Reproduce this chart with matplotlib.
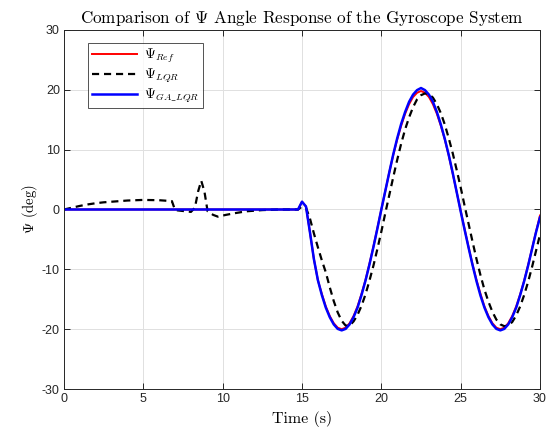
import numpy as np
import matplotlib
matplotlib.use("Agg")
from matplotlib import pyplot as plt

# time axes (s) and angle values (deg)
t_sine = [15.0, 15.25, 15.5, 15.75, 16.0, 16.25, 16.5, 16.75, 17.0, 17.25,
          17.5, 17.75, 18.0, 18.25, 18.5, 18.75, 19.0, 19.25, 19.5, 19.75,
          20.0, 20.25, 20.5, 20.75, 21.0, 21.25, 21.5, 21.75, 22.0, 22.25,
          22.5, 22.75, 23.0, 23.25, 23.5, 23.75, 24.0, 24.25, 24.5, 24.75,
          25.0, 25.25, 25.5, 25.75, 26.0, 26.25, 26.5, 26.75, 27.0, 27.25,
          27.5, 27.75, 28.0, 28.25, 28.5, 28.75, 29.0, 29.25, 29.5, 29.75, 30.0]

psi_ref = [1.3, 0.5, -3.8, -8.3, -11.8, -14.1, -16.2, -17.8, -19.0, -19.75,
           -20.0, -19.75, -19.0, -17.8, -16.2, -14.1, -11.8, -9.1, -6.2, -3.1,
           0.0, 3.1, 6.2, 9.1, 11.7, 14.0, 16.0, 17.6, 18.8, 19.5,
           19.8, 19.5, 18.8, 17.6, 16.0, 14.0, 11.7, 9.0, 6.0, 2.9,
           -0.2, -3.3, -6.3, -9.2, -11.8, -14.1, -16.2, -17.8, -19.0, -19.75,
           -20.0, -19.75, -19.0, -17.8, -16.2, -14.2, -11.9, -9.3, -6.5, -3.7, -1.0]

psi_ga = [1.3, 0.5, -3.8, -8.3, -11.8, -14.3, -16.4, -18.0, -19.2, -19.95,
          -20.2, -19.95, -19.2, -18.0, -16.4, -14.3, -11.9, -9.2, -6.3, -3.2,
          0.0, 3.1, 6.2, 9.2, 11.9, 14.3, 16.3, 18.0, 19.2, 19.95,
          20.3, 19.95, 19.2, 18.0, 16.3, 14.2, 11.8, 9.1, 6.1, 2.9,
          -0.3, -3.4, -6.4, -9.3, -12.0, -14.4, -16.4, -18.0, -19.2, -19.95,
          -20.2, -19.95, -19.2, -18.0, -16.4, -14.3, -12.0, -9.4, -6.6, -3.8, -1.3]

psi_lqr_sine = [0.5, 0.3, -1.5, -4.0, -6.3, -8.5, -10.5, -13.0, -15.3, -17.2,
                -18.6, -19.4, -19.4, -18.7, -17.6, -16.1, -14.2, -11.9, -9.4, -6.6,
                -3.7, -0.6, 2.4, 5.4, 8.3, 11.0, 13.4, 15.4, 17.1, 18.4,
                19.1, 19.4, 19.3, 18.7, 17.6, 16.1, 14.2, 11.9, 9.4, 6.6,
                3.7, 0.6, -2.4, -5.4, -8.3, -11.0, -13.4, -15.4, -17.1, -18.4,
                -19.2, -19.5, -19.4, -18.8, -17.7, -16.2, -14.3, -12.1, -9.6, -6.9, -4.2]

# first 15 s
t_flat = [0.0, 14.75]
psi_flat = [0.0, 0.0]
t_lqr_early = [0.0, 0.5, 1.0, 1.5, 2.0, 2.5, 3.0, 4.0, 5.0, 6.0, 6.8, 7.0,
               7.5, 8.0, 8.25, 8.45, 8.65, 8.85, 9.05, 9.4, 9.7, 10.2, 10.8,
               11.5, 12.5, 13.5, 14.75]
psi_lqr_early = [0.0, 0.3, 0.6, 0.85, 1.05, 1.2, 1.3, 1.5, 1.6, 1.55, 1.4, -0.1,
                 -0.25, -0.4, 0.3, 3.0, 4.8, 3.0, -0.3, -0.9, -1.2, -0.9, -0.6,
                 -0.3, -0.1, 0.0, 0.0]

t_ref = t_flat + t_sine
y_ref = psi_flat + psi_ref
t_ga = t_flat + t_sine
y_ga = psi_flat + psi_ga
t_lqr = t_lqr_early + t_sine
y_lqr = psi_lqr_early + psi_lqr_sine

plt.rcParams["mathtext.fontset"] = "cm"
plt.rcParams["axes.formatter.use_mathtext"] = True
serif = "cmr10"
tickfont = "Liberation Sans"

fig = plt.figure(figsize=(5.49, 4.32), dpi=100)
ax = fig.add_axes([0.1166, 0.0995, 0.867, 0.8311])

ax.plot(t_ref, y_ref, color="#ff0000", lw=1.4, label=r"$\Psi_{Ref}$")
ax.plot(t_lqr, y_lqr, color="black", lw=1.6, ls=(0, (3.2, 2.2)), label=r"$\Psi_{LQR}$")
ax.plot(t_ga, y_ga, color="#0000ff", lw=1.8, label=r"$\Psi_{GA\_LQR}$")

ax.set_xlim(0, 30)
ax.set_ylim(-30, 30)
ax.set_xticks(np.arange(0, 31, 5))
ax.set_yticks(np.arange(-30, 31, 10))
ax.grid(True, color="#e0e0e0", lw=0.7)
ax.set_axisbelow(True)
ax.tick_params(direction="in", top=True, right=True, length=4, width=0.7,
               color="#262626", labelcolor="#262626", labelsize=9, pad=3)
ax.set_xticklabels([str(v) for v in range(0, 31, 5)], fontfamily=tickfont)
ax.set_yticklabels([str(v) for v in range(-30, 31, 10)], fontfamily=tickfont)
for s in ax.spines.values():
    s.set_color("#262626")
    s.set_linewidth(0.7)

ax.set_title(r"Comparison of $\Psi$ Angle Response of the Gyroscope System",
             fontfamily=serif, fontsize=12.3, pad=5)
ax.set_xlabel("Time (s)", fontfamily=serif, fontsize=11.5)
ax.set_ylabel(r"$\Psi$ (deg)", fontfamily=serif, fontsize=10.5)
ax.xaxis.set_label_coords(0.5, -0.06)
ax.yaxis.set_label_coords(-0.05, 0.5)

leg = ax.legend(loc="upper left", bbox_to_anchor=(0.036, 0.982), fontsize=10,
                frameon=True, fancybox=False, edgecolor="#262626",
                handlelength=3.3, handletextpad=0.5, borderpad=0.25,
                labelspacing=0.12)
leg.get_frame().set_linewidth(0.7)

fig.savefig("out.png", dpi=100)
